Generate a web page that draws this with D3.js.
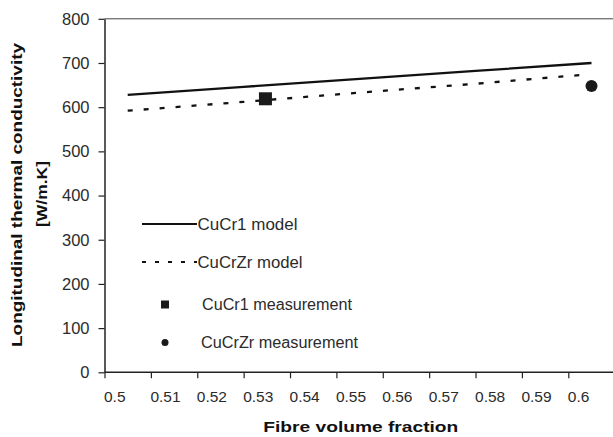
<!DOCTYPE html>
<html><head><meta charset="utf-8">
<script src="https://cdn.jsdelivr.net/npm/d3@7"></script>
<style>
html,body{margin:0;padding:0;background:#fff;}
svg{display:block;font-family:"Liberation Sans",Arial,sans-serif;}
</style></head>
<body><svg id="c" width="613" height="437"></svg>
<script>
// ---- data ----
const xTicks = [0.5,0.51,0.52,0.53,0.54,0.55,0.56,0.57,0.58,0.59,0.6];
const xTickLabels = ["0.5","0.51","0.52","0.53","0.54","0.55","0.56","0.57","0.58","0.59","0.6"];
const yTicks = [0,100,200,300,400,500,600,700,800];
const cucr1ModelX = [0.505,0.53,0.555,0.58,0.605];
const cucr1ModelY = [628,646,664,682,700];
const cucrzrModelX = [0.505,0.53,0.555,0.58,0.604];
const cucrzrModelY = [592,612,633,653,674];
const cucr1MeasX = [0.5347];
const cucr1MeasY = [619];
const cucrzrMeasX = [0.605];
const cucrzrMeasY = [648];
const legendLabels = ["CuCr1 model","CuCrZr model","CuCr1 measurement","CuCrZr measurement"];

const svg = d3.select("#c");
const x = d3.scaleLinear().domain([0.5,0.6]).range([104.5,568.3]);
const y = d3.scaleLinear().domain([0,800]).range([372.3,18.8]);
const txt = "#2b2b2b";

// frame lines
svg.append("line").attr("x1",104.5).attr("x2",613).attr("y1",y(800)).attr("y2",y(800))
  .attr("stroke","#444").attr("stroke-width",1);

// axes
const yAxis = d3.axisLeft(y).tickValues(yTicks).tickSize(6).tickSizeOuter(0).tickFormat(d3.format("d"));
const gy = svg.append("g").attr("transform","translate(104.5,0)").call(yAxis);
gy.select(".domain").attr("stroke","#222").attr("stroke-width",1.5);
gy.selectAll(".tick line").attr("stroke","#222").attr("stroke-width",1.2);
gy.selectAll(".tick text").attr("x",-15).attr("fill",txt).attr("font-size",16.5)
  .attr("font-family","Liberation Sans, Arial, sans-serif");

const xAxis = d3.axisBottom(x).tickValues(xTicks).tickSize(6).tickSizeOuter(0).tickFormat((d,i)=>xTickLabels[i]);
const gx = svg.append("g").attr("transform","translate(0,372.3)").call(xAxis);
gx.select(".domain").attr("d","M104.5,0H613").attr("stroke","#222").attr("stroke-width",1.5);
gx.selectAll(".tick line").attr("stroke","#222").attr("stroke-width",1.2);
gx.selectAll(".tick text").attr("fill",txt).attr("font-size",15.5)
  .attr("font-family","Liberation Sans, Arial, sans-serif")
  .attr("text-anchor","start").attr("x",-1).attr("y",0).attr("dy",null)
  .attr("transform","translate(0,29.5)");

// lines
const line = d3.line().x(d=>x(d[0])).y(d=>y(d[1]));
svg.append("path").datum(d3.zip(cucr1ModelX,cucr1ModelY)).attr("d",line)
  .attr("fill","none").attr("stroke","#111").attr("stroke-width",2.3);
svg.append("path").datum(d3.zip(cucrzrModelX,cucrzrModelY)).attr("d",line)
  .attr("fill","none").attr("stroke","#111").attr("stroke-width",2.3).attr("stroke-dasharray","5,11");

// markers
svg.selectAll(".sq").data(d3.zip(cucr1MeasX,cucr1MeasY)).enter().append("rect")
  .attr("x",d=>x(d[0])-6.5).attr("y",d=>y(d[1])-6.5).attr("width",13).attr("height",13).attr("fill","#1a1a1a");
svg.selectAll(".ci").data(d3.zip(cucrzrMeasX,cucrzrMeasY)).enter().append("circle")
  .attr("cx",d=>x(d[0])).attr("cy",d=>y(d[1])).attr("r",6).attr("fill","#1a1a1a");

// legend
const lg = svg.append("g");
lg.append("line").attr("x1",142).attr("x2",197).attr("y1",224).attr("y2",224).attr("stroke","#111").attr("stroke-width",2);
lg.append("line").attr("x1",142).attr("x2",197).attr("y1",262).attr("y2",262).attr("stroke","#111").attr("stroke-width",2).attr("stroke-dasharray","4,9");
lg.append("rect").attr("x",161).attr("y",300.5).attr("width",8).attr("height",8).attr("fill","#1a1a1a");
lg.append("circle").attr("cx",165).attr("cy",342.5).attr("r",3.5).attr("fill","#1a1a1a");
const lx = [197.5,197.5,202,201], ly=[224,262,304,342], lw=[100,105,150,157];
lg.selectAll("text").data(legendLabels).enter().append("text")
  .attr("x",(d,i)=>lx[i]).attr("y",(d,i)=>ly[i]).attr("dy","0.36em")
  .attr("font-size",16).attr("fill",txt)
  .attr("textLength",(d,i)=>lw[i]).attr("lengthAdjust","spacingAndGlyphs")
  .text(d=>d);

// axis titles
svg.append("text").attr("x",360.8).attr("y",431.5).attr("text-anchor","middle")
  .attr("font-weight","bold").attr("font-size",15).attr("fill","#111")
  .attr("textLength",195).attr("lengthAdjust","spacingAndGlyphs")
  .text("Fibre volume fraction");
svg.append("text").attr("transform","translate(22,195) rotate(-90)").attr("text-anchor","middle")
  .attr("font-weight","bold").attr("font-size",15).attr("fill","#111")
  .attr("textLength",304).attr("lengthAdjust","spacingAndGlyphs")
  .text("Longitudinal thermal conductivity");
svg.append("text").attr("transform","translate(47,194) rotate(-90)").attr("text-anchor","middle")
  .attr("font-weight","bold").attr("font-size",15).attr("fill","#111")
  .attr("textLength",66).attr("lengthAdjust","spacingAndGlyphs")
  .text("[W/m.K]");
</script></body></html>
